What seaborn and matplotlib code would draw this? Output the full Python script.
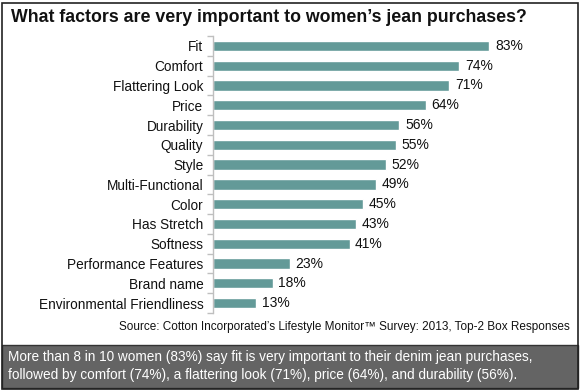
import matplotlib
matplotlib.use("Agg")
import matplotlib.pyplot as plt
import seaborn as sns
import pandas as pd
from matplotlib.patches import Rectangle

categories = ["Fit", "Comfort", "Flattering Look", "Price", "Durability", "Quality",
              "Style", "Multi-Functional", "Color", "Has Stretch", "Softness",
              "Performance Features", "Brand name", "Environmental Friendliness"]
values = [83, 74, 71, 64, 56, 55, 52, 49, 45, 43, 41, 23, 18, 13]

title = "What factors are very important to women\u2019s jean purchases?"
source = "Source: Cotton Incorporated\u2019s Lifestyle Monitor\u2122 Survey: 2013, Top-2 Box Responses"
summary = ("More than 8 in 10 women (83%) say fit is very important to their denim jean purchases,\n"
           "followed by comfort (74%), a flattering look (71%), price (64%), and durability (56%).")

sns.set_theme(style="white")
plt.rcParams['font.family'] = ['Liberation Sans', 'DejaVu Sans']

W, H = 580, 390
fig = plt.figure(figsize=(W / 100, H / 100), dpi=100)

df = pd.DataFrame({"factor": categories, "pct": values})

ax = fig.add_axes([213 / W, 1 - 313 / H, 333 / W, 277 / H])
sns.barplot(data=df, y="factor", x="pct", orient="h", color="#639A98",
            saturation=1, width=0.52, ax=ax)
ax.set_xlim(0, 100)
ax.set_xlabel("")
ax.set_ylabel("")
ax.set_xticks([])
for s in ["top", "right", "bottom"]:
    ax.spines[s].set_visible(False)
ax.spines["left"].set_color("#BFBFBF")
ax.spines["left"].set_linewidth(1)
ax.tick_params(axis="y", which="major", length=0, pad=7, labelsize=9.8, labelcolor="#111111")
ax.set_yticks([i + 0.5 for i in range(-1, len(categories))], minor=True)
ax.tick_params(axis="y", which="minor", length=4, width=1, color="#BFBFBF", left=True)
for c in ax.containers:
    ax.bar_label(c, labels=[f"{v}%" for v in values], padding=4, fontsize=10, color="#111111")

fig.text(11 / W, 1 - 17 / H, title, fontsize=12.8, fontweight="bold", va="center", ha="left",
         color="#111111")
fig.text(570 / W, 1 - 327 / H, source, fontsize=8.5, ha="right", va="center", color="#111111")

fig.patches.append(Rectangle((1.5 / W, 2 / H), 576.5 / W, 43 / H, transform=fig.transFigure,
                             facecolor="#646464", edgecolor="#333333", linewidth=1))
fig.text(8 / W, 1 - 366 / H, summary, fontsize=9.8, color="white", va="center", ha="left",
         linespacing=1.35)
fig.patches.append(Rectangle((1.5 / W, 1.5 / H), 576.5 / W, 386 / H, transform=fig.transFigure,
                             facecolor="none", edgecolor="#222222", linewidth=1.2))

fig.savefig("out.png", dpi=100)
